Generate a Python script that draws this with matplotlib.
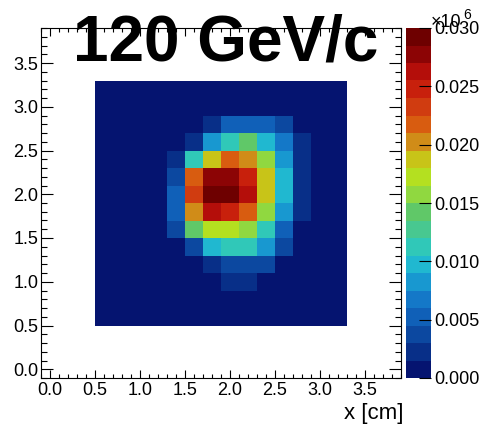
import matplotlib
matplotlib.use("Agg")
import matplotlib.pyplot as plt
from matplotlib.colors import ListedColormap, BoundaryNorm
from matplotlib.ticker import MultipleLocator, FormatStrFormatter, FuncFormatter
import numpy as np

plt.rcParams["font.family"] = ["Liberation Sans", "DejaVu Sans"]

# bin edges of the 14 x 14 beam profile histogram (cm)
x_edges = np.linspace(0.5, 3.3, 15)
y_edges = np.linspace(0.5, 3.3, 15)

# counts per bin, rows listed from top (y = 3.3) to bottom (y = 0.5)
counts_top_down = [
    [420, 380, 450, 400, 430, 470, 520, 560, 540, 500, 460, 410, 390, 370],
    [480, 450, 500, 520, 560, 640, 820, 950, 930, 880, 760, 600, 480, 430],
    [520, 500, 560, 640, 900, 1200, 2250, 5200, 5300, 5100, 3800, 1300, 700, 520],
    [560, 560, 640, 900, 1400, 2200, 8200, 11200, 14200, 9700, 6800, 2300, 900, 600],
    [600, 620, 700, 1000, 2100, 11300, 18700, 21800, 20300, 15800, 8300, 2400, 1000, 640],
    [620, 650, 760, 1100, 3700, 21700, 27800, 27600, 24700, 18800, 9800, 2500, 1100, 660],
    [640, 660, 780, 1200, 5200, 23200, 29400, 29700, 26200, 18900, 9900, 2400, 1100, 650],
    [620, 640, 760, 1150, 5300, 20200, 26300, 24800, 21900, 15700, 8200, 2200, 1050, 640],
    [600, 610, 720, 1050, 3800, 14100, 17200, 17300, 15900, 11200, 5000, 1200, 950, 610],
    [560, 580, 660, 900, 1300, 3700, 9800, 11300, 11100, 8100, 3600, 1100, 800, 560],
    [520, 540, 600, 760, 1000, 1400, 2200, 3800, 3900, 3600, 1300, 900, 680, 520],
    [480, 500, 540, 640, 800, 1000, 1350, 2300, 2200, 1400, 1000, 760, 600, 480],
    [440, 460, 500, 560, 660, 800, 950, 1100, 1050, 900, 780, 640, 520, 450],
    [400, 420, 450, 500, 560, 620, 700, 760, 740, 680, 600, 540, 470, 410],
]

# 20-level palette, low to high
palette = [
    "#051470", "#082f88", "#0c48a0", "#1060b8", "#1478c8",
    "#1898d0", "#20b8d0", "#30c8b8", "#48c890", "#60c868",
    "#90d840", "#b4e020", "#c8c418", "#d08c18", "#d85c10",
    "#d03c10", "#c8200c", "#b40e0a", "#8c0405", "#6e0000",
]
z_max = 30000
z_ticks = [0, 5000, 10000, 15000, 20000, 25000, 30000]

W, H = 485, 426
fig = plt.figure(figsize=(W / 100, H / 100), dpi=100)
ax = fig.add_axes([41 / W, 1 - 378 / H, 360 / W, 350 / H])

cmap = ListedColormap(palette)
norm = BoundaryNorm(np.linspace(0, z_max, len(palette) + 1), cmap.N)
z = np.array(counts_top_down)[::-1]
mesh = ax.pcolormesh(x_edges, y_edges, z, cmap=cmap, norm=norm,
                     edgecolors="none", antialiased=False)

ax.set_xlim(-0.1, 3.9)
ax.set_ylim(-0.1, 3.9)
for axis in (ax.xaxis, ax.yaxis):
    axis.set_major_locator(MultipleLocator(0.5))
    axis.set_minor_locator(MultipleLocator(0.1))
    axis.set_major_formatter(FormatStrFormatter("%.1f"))
ax.tick_params(which="both", direction="in", top=True, right=True,
               labelsize=13, width=0.8)
ax.tick_params(axis="x", which="major", length=5.8, pad=3)
ax.tick_params(axis="x", which="minor", length=2.9)
ax.tick_params(axis="y", which="major", length=8.6, pad=2)
ax.tick_params(axis="y", which="minor", length=4.3)
for sp in ax.spines.values():
    sp.set_linewidth(0.8)

# palette axis
cax = fig.add_axes([406 / W, 1 - 378 / H, 25 / W, 350 / H])
cb = fig.colorbar(mesh, cax=cax, ticks=z_ticks)
cb.outline.set_visible(False)
cb.ax.minorticks_off()
cb.ax.yaxis.set_major_formatter(FuncFormatter(lambda v, p: f"{v / 1e6:.3f}"))
cb.ax.tick_params(direction="in", length=9, width=0.8, labelsize=13, pad=2)

# exponent of the palette axis (overlaps the top label, as in ROOT)
fig.text(431 / W, 1 - 27 / H, "\u00d710", fontsize=13, ha="left", va="baseline")
fig.text(463 / W, 1 - 19 / H, "6", fontsize=10, ha="left", va="baseline")

fig.text(226 / W, 1 - 60 / H, "120 GeV/c", fontsize=46, fontweight="bold",
         ha="center", va="baseline")
fig.text(403 / W, 1 - 413 / H, "x [cm]", fontsize=16, ha="right", va="center")

fig.savefig("out.png", dpi=100)
